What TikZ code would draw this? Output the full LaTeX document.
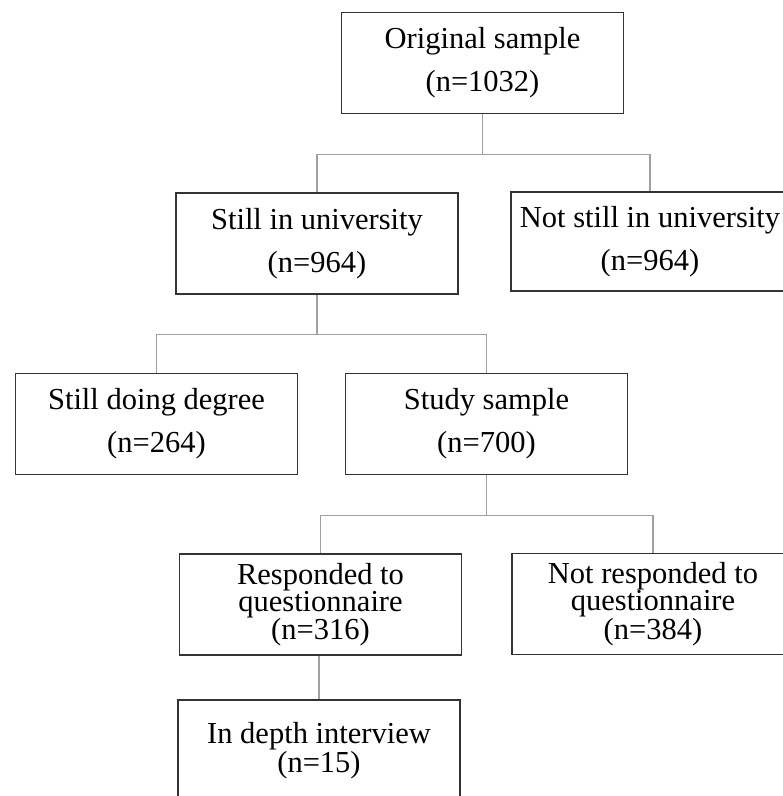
\documentclass[tikz,border=0pt]{standalone}
\usepackage{fontspec}
\setmainfont{Liberation Serif}
\definecolor{boxline}{HTML}{333333}
\definecolor{linkline}{HTML}{A0A0A0}
\tikzset{
  fbox/.style={draw=boxline, line width=1.5pt, minimum width=282pt, minimum height=101pt,
    inner sep=0pt, align=center, font=\fontsize{30.5}{43}\selectfont, text=black},
  fboxtight/.style={fbox, font=\fontsize{30.5}{27}\selectfont},
  link/.style={draw=linkline, line width=1.1pt}
}
\begin{document}
\begin{tikzpicture}[x=1pt,y=-1pt]
\useasboundingbox (0,0) rectangle (783,796);
\clip (0,0) rectangle (783,796);
\fill[white] (0,0) rectangle (783,796);
\node[fbox] (orig) at (482.5,63) {Original sample\\(n=1032)};
\node[fbox] (still) at (317,243.5) {Still in university\\(n=964)};
\node[fbox, minimum width=278pt, minimum height=99pt] (notstill) at (650,241.5) {Not still in university\\(n=964)};
\node[fbox] (doing) at (156.5,424) {Still doing degree\\(n=264)};
\node[fbox] (study) at (486.5,424) {Study sample\\(n=700)};
\node[fboxtight] (resp) at (320.5,604.5) {Responded to\\questionnaire\\(n=316)};
\node[fboxtight] (notresp) at (653,604) {Not responded to\\questionnaire\\(n=384)};
\node[fboxtight] (depth) at (319,750.5) {In depth interview\\(n=15)};
\draw[link] (orig.south) -- ++(0,40) -| (still.north);
\draw[link] (orig.south) -- ++(0,40) -| (notstill.north);
\draw[link] (still.south) -- ++(0,40) -| (doing.north);
\draw[link] (still.south) -- ++(0,40) -| (study.north);
\draw[link] (study.south) -- ++(0,40) -| (resp.north);
\draw[link] (study.south) -- ++(0,40) -| (notresp.north);
\draw[link] (resp.south -| depth.north) -- (depth.north);
\end{tikzpicture}
\end{document}
